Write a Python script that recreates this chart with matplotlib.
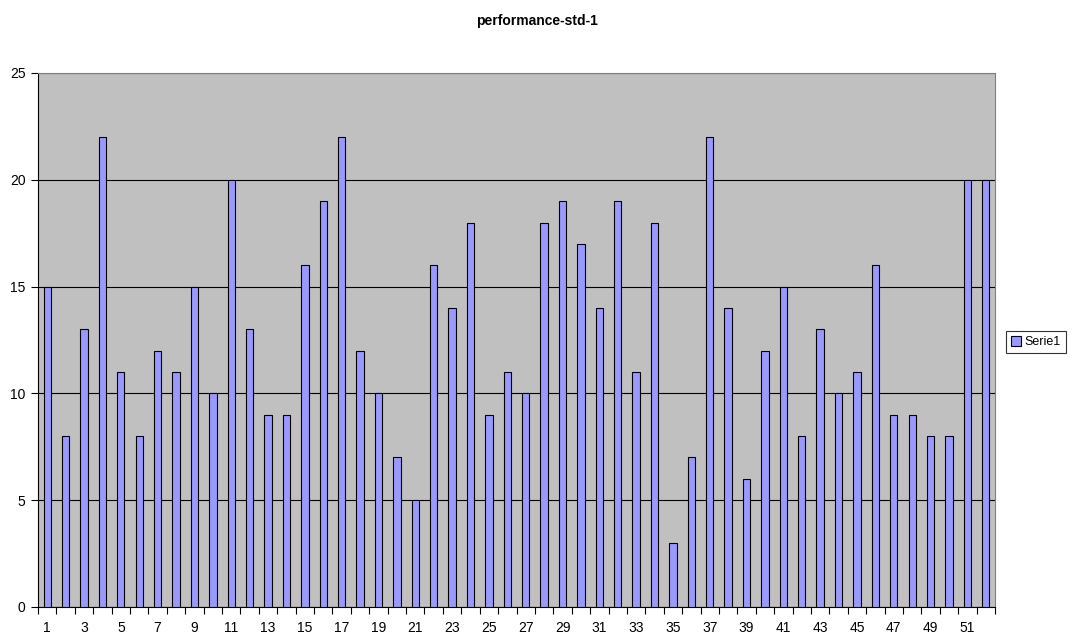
import numpy as np
import matplotlib.pyplot as plt

plt.rcParams['font.family'] = ['Liberation Sans', 'DejaVu Sans']

categories = list(range(1, 53))
values = [15, 8, 13, 22, 11, 8, 12, 11, 15, 10, 20, 13, 9, 9, 16, 19, 22, 12, 10, 7,
          5, 16, 14, 18, 9, 11, 10, 18, 19, 17, 14, 19, 11, 18, 3, 7, 22, 14, 6, 12,
          15, 8, 13, 10, 11, 16, 9, 9, 8, 8, 20, 20]
series_name = 'Serie1'
title = 'performance-std-1'

fig = plt.figure(figsize=(10.73, 6.37), dpi=100)
ax = fig.add_axes([38 / 1073, 1 - 607 / 637, (995 - 38) / 1073, (607 - 73) / 637])
ax.set_facecolor('#C0C0C0')

x = np.arange(len(categories))
ax.bar(x, values, width=0.4, color='#9999FF', edgecolor='black', linewidth=0.8,
       label=series_name, zorder=3)

ax.set_xlim(-0.5, len(categories) - 0.5)
ax.set_ylim(0, 25)
ax.set_yticks([0, 5, 10, 15, 20, 25])
ax.yaxis.grid(True, color='black', linewidth=0.8, zorder=1)

# ticks at category boundaries, labels on every other category
ax.set_xticks(np.arange(-0.5, len(categories) + 0.5, 1))
ax.set_xticklabels([])
ax.set_xticks(x[::2], minor=True)
ax.set_xticklabels([str(c) for c in categories[::2]], minor=True)
ax.tick_params(axis='x', which='major', length=5, direction='out', color='black')
ax.tick_params(axis='x', which='minor', length=0, pad=10, labelsize=10)
ax.tick_params(axis='y', length=5, labelsize=10, pad=4)

for s in ['top', 'right']:
    ax.spines[s].set_color('#808080')
ax.spines['left'].set_color('black')
ax.spines['bottom'].set_color('black')

fig.text(0.5, 1 - 21 / 637, title, ha='center', va='center', fontsize=10, fontweight='bold')

leg = fig.legend(loc='center', bbox_to_anchor=(1036 / 1073, 1 - 342 / 637), fontsize=9,
                 frameon=True, fancybox=False, edgecolor='black', handlelength=0.8,
                 handleheight=0.8, handletextpad=0.3, borderpad=0.4)
leg.get_frame().set_linewidth(0.8)

fig.savefig('out.png', dpi=100)
